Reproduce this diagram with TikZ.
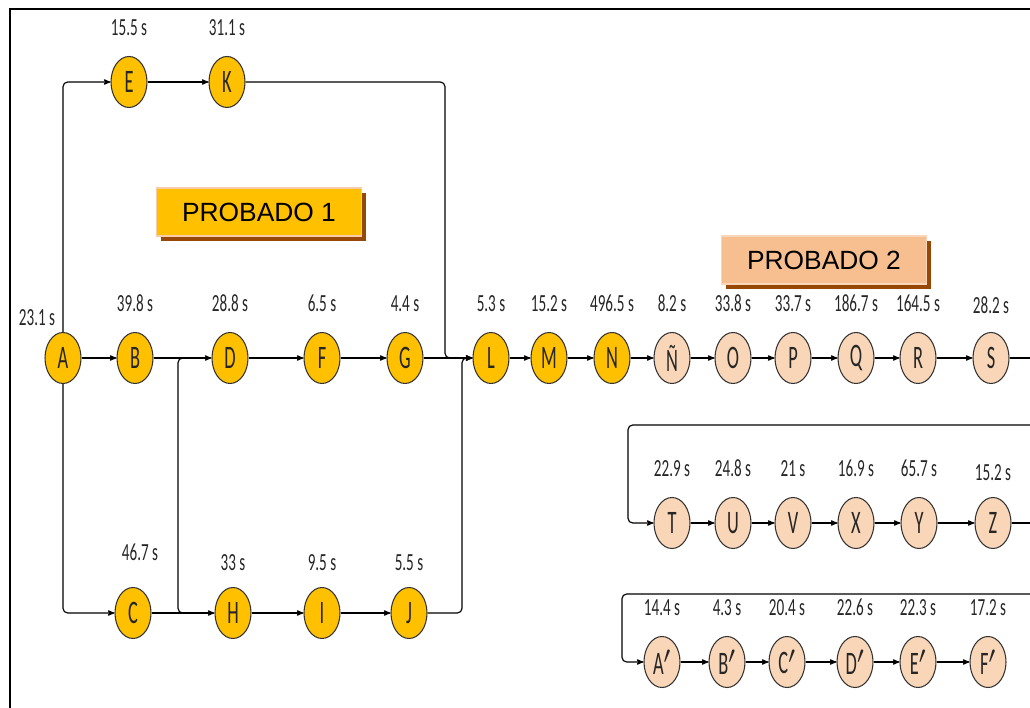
\documentclass[tikz,border=0pt]{standalone}
\usepackage{fontspec}
\setmainfont{Liberation Sans}
\newfontfamily\narrowfont[FakeStretch=0.615]{Carlito}
\newfontfamily\letterfont[FakeStretch=0.56]{Carlito}
\usetikzlibrary{shapes.geometric, shadows, arrows, positioning}
\definecolor{gold}{HTML}{FFC000}
\definecolor{peach}{HTML}{F9D6B8}
\definecolor{salmon}{HTML}{F7BF8F}
\definecolor{rust}{HTML}{974706}
\definecolor{paleline}{HTML}{F8CBAD}
\tikzset{>=stealth',
  task/.style={ellipse, draw=black!80, line width=0.9pt, minimum width=10.8mm,
    minimum height=15.3mm, inner sep=0pt, text=black!85,
    font=\letterfont\fontsize{28}{28}\selectfont},
  done/.style={task, fill=gold},
  todo/.style={task, fill=peach},
  lbl/.style={font=\narrowfont\fontsize{21}{21}\selectfont, text=black!85, inner sep=1pt},
  up/.style={lbl, yshift=16pt},
  link/.style={->, line width=1pt, rounded corners=4pt},
  line/.style={line width=1pt, rounded corners=4pt},
  tag/.style={minimum width=61.5mm, minimum height=14.4mm, line width=1.5pt,
    font=\fontsize{22.5}{24}\selectfont,
    drop shadow={shadow xshift=4pt, shadow yshift=-4pt, fill=rust, opacity=1}}}

\begin{document}
\begin{tikzpicture}[x=0.3mm, y=-0.3mm]
\useasboundingbox (0,0) rectangle (1030,708);
\draw[line width=2.2pt] (10,708) -- (10,9) -- (1030,9);

% PROBADO 1
\node[done, label={[up]above:15.5 s}] (E) at (129,82) {E};
\node[done, label={[up]above:31.1 s}] (K) at (227,82) {K};
\node[done] (A) at (63,358) {A};
\node[lbl] (tA) at (37,318) {23.1 s};
\node[done, label={[up]above:39.8 s}] (B) at (135,358) {B};
\node[done, label={[up]above:28.8 s}] (D) at (230,358) {D};
\node[done, label={[up]above:6.5 s}] (F) at (322,358) {F};
\node[done, label={[up]above:4.4 s}] (G) at (405,358) {G};
\node[done, label={[up,xshift=6pt,yshift=5pt]above:46.7 s}] (C) at (133,613) {C};
\node[done, label={[up,yshift=-3pt]above:33 s}] (H) at (233,613) {H};
\node[done, label={[up,yshift=-3pt]above:9.5 s}] (I) at (322,613) {I};
\node[done, label={[up,yshift=-3pt]above:5.5 s}] (J) at (409,613) {J};
\node[done, label={[up]above:5.3 s}] (L) at (491,358) {L};
\node[done, label={[up]above:15.2 s}] (M) at (549,358) {M};
\node[done, label={[up]above:496.5 s}] (N) at (612,358) {N};

% PROBADO 2
\node[todo, label={[up]above:8.2 s}] (Ntil) at (672,358) {Ñ};
\node[todo, label={[up]above:33.8 s}] (O) at (733,358) {O};
\node[todo, label={[up]above:33.7 s}] (P) at (793,358) {P};
\node[todo, label={[up]above:186.7 s}] (Q) at (856,358) {Q};
\node[todo, label={[up]above:164.5 s}] (R) at (918,358) {R};
\node[todo, label={[up,yshift=-2pt]above:28.2 s}] (S) at (991,358) {S};
\node[todo, label={[up]above:22.9 s}] (T) at (672,523) {T};
\node[todo, label={[up]above:24.8 s}] (U) at (733,523) {U};
\node[todo, label={[up]above:21 s}] (V) at (793,523) {V};
\node[todo, label={[up]above:16.9 s}] (X) at (856,523) {X};
\node[todo, label={[up]above:65.7 s}] (Y) at (919,523) {Y};
\node[todo, label={[up,yshift=-3pt]above:15.2 s}] (Z) at (993,523) {Z};
\node[todo, label={[up]above:14.4 s}] (Ap) at (662,662) {A$'$};
\node[todo, label={[up]above:4.3 s}] (Bp) at (727,662) {B$'$};
\node[todo, label={[up]above:20.4 s}] (Cp) at (787,662) {C$'$};
\node[todo, label={[up]above:22.6 s}] (Dp) at (855,662) {D$'$};
\node[todo, label={[up]above:22.3 s}] (Ep) at (918,662) {E$'$};
\node[todo, label={[up]above:17.2 s}] (Fp) at (988,662) {F$'$};

\node[tag, fill=gold, draw=paleline] (tag1) at (259,212) {PROBADO 1};
\node[tag, fill=salmon, draw=peach] (tag2) at (824,260) {PROBADO 2};

% turning points
\coordinate (mTop) at (178,358);
\coordinate (mBot) at (178,613);
\coordinate (kTurn) at (445,358);
\coordinate (jTurn) at (462,358);
\coordinate (sOut) at (1030,358);
\coordinate (wrapT) at (1030,425);
\coordinate (tTurn) at (628,523);
\coordinate (zOut) at (1030,523);
\coordinate (wrapAp) at (1030,594);
\coordinate (apTurn) at (622,662);

\draw[link] (A) |- (E);
\draw[link] (A) |- (C);
\draw[link] (A) -- (B);
\draw[link] (E) -- (K);
\draw[link] (K) -| (kTurn) -- (L);
\draw[link] (B) -- (D);
\draw[link] (C) -- (H);
\draw[line] ([xshift=5pt]mBot) -| (mTop) -- ([xshift=5pt]mTop);
\draw[link] (D) -- (F);
\draw[link] (F) -- (G);
\draw[link] (G) -- (L);
\draw[link] (H) -- (I);
\draw[link] (I) -- (J);
\draw[link] (J) -| (jTurn) -- (L);
\draw[link] (L) -- (M);
\draw[link] (M) -- (N);
\draw[link] (N) -- (Ntil);
\draw[link] (Ntil) -- (O);
\draw[link] (O) -- (P);
\draw[link] (P) -- (Q);
\draw[link] (Q) -- (R);
\draw[link] (R) -- (S);
\draw[line] (S) -- (sOut);
\draw[link] (wrapT) -| (tTurn) -- (T);
\draw[link] (T) -- (U);
\draw[link] (U) -- (V);
\draw[link] (V) -- (X);
\draw[link] (X) -- (Y);
\draw[link] (Y) -- (Z);
\draw[line] (Z) -- (zOut);
\draw[link] (wrapAp) -| (apTurn) -- (Ap);
\draw[link] (Ap) -- (Bp);
\draw[link] (Bp) -- (Cp);
\draw[link] (Cp) -- (Dp);
\draw[link] (Dp) -- (Ep);
\draw[link] (Ep) -- (Fp);

\end{tikzpicture}
\end{document}
